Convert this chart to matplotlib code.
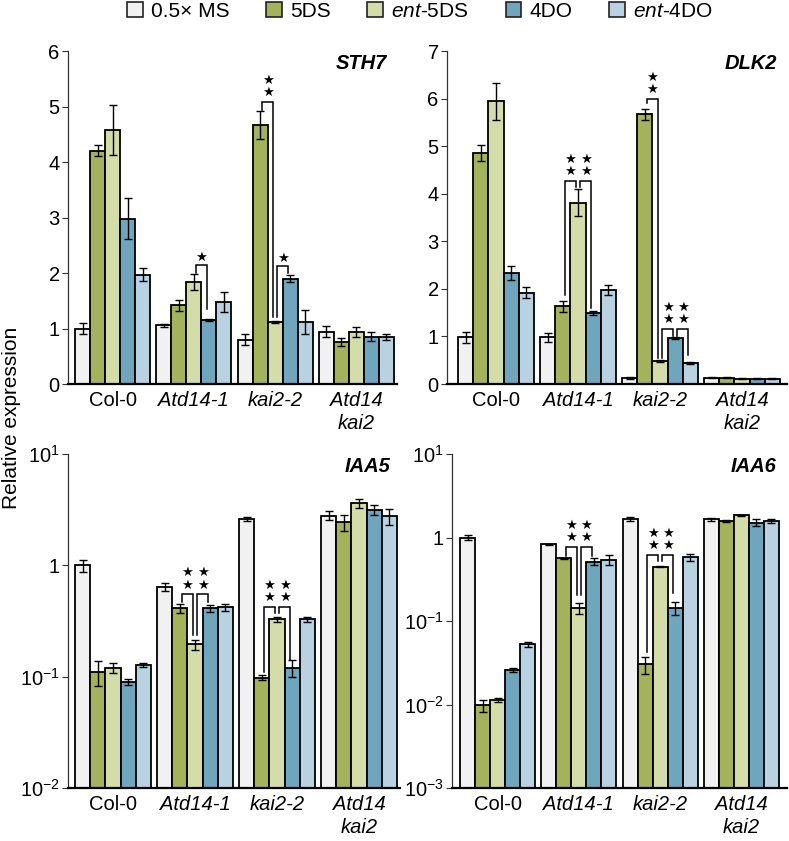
import numpy as np
import matplotlib.pyplot as plt
from matplotlib.patches import Patch

plt.rcParams['font.family'] = ['Liberation Sans', 'DejaVu Sans']
plt.rcParams['mathtext.fontset'] = 'custom'
plt.rcParams['mathtext.rm'] = 'Liberation Sans'
plt.rcParams['mathtext.it'] = 'Liberation Sans:italic'
plt.rcParams['mathtext.bf'] = 'Liberation Sans:bold'

treatments = ['0.5× MS', '5DS', r'$\mathit{ent}$-5DS', '4DO', r'$\mathit{ent}$-4DO']
colors = ['#f1f1f1', '#a4b25c', '#d4dca9', '#70a5be', '#b8d2e2']
genotypes = ['Col-0', 'Atd14-1', 'kai2-2', 'Atd14\nkai2']
italic_geno = [False, True, True, True]

# rows = genotypes, columns = treatments
sth7_mean = [[1.00, 4.20, 4.58, 2.98, 1.97],
             [1.06, 1.42, 1.84, 1.15, 1.47],
             [0.80, 4.67, 1.12, 1.90, 1.12],
             [0.94, 0.75, 0.94, 0.85, 0.85]]
sth7_err = [[0.10, 0.10, 0.45, 0.37, 0.12],
            [0.03, 0.10, 0.15, 0.02, 0.18],
            [0.10, 0.25, 0.02, 0.07, 0.22],
            [0.10, 0.07, 0.09, 0.08, 0.05]]

dlk2_mean = [[0.98, 4.85, 5.94, 2.33, 1.92],
             [0.98, 1.63, 3.81, 1.50, 1.98],
             [0.12, 5.67, 0.48, 0.96, 0.45],
             [0.13, 0.13, 0.11, 0.11, 0.11]]
dlk2_err = [[0.12, 0.17, 0.38, 0.14, 0.12],
            [0.09, 0.12, 0.28, 0.04, 0.10],
            [0.02, 0.12, 0.02, 0.02, 0.02],
            [0.01, 0.01, 0.01, 0.01, 0.01]]

iaa5_mean = [[1.00, 0.111, 0.120, 0.090, 0.127],
             [0.644, 0.411, 0.195, 0.411, 0.420],
             [2.60, 0.098, 0.327, 0.120, 0.327],
             [2.80, 2.43, 3.62, 3.16, 2.75]]
iaa5_err = [[0.12, 0.028, 0.013, 0.005, 0.005],
            [0.05, 0.040, 0.020, 0.030, 0.030],
            [0.10, 0.005, 0.017, 0.020, 0.017],
            [0.25, 0.40, 0.35, 0.35, 0.45]]

iaa6_mean = [[1.00, 0.0098, 0.0113, 0.0258, 0.0525],
             [0.83, 0.565, 0.142, 0.515, 0.540],
             [1.66, 0.0305, 0.449, 0.142, 0.580],
             [1.66, 1.58, 1.84, 1.51, 1.58]]
iaa6_err = [[0.07, 0.0016, 0.0006, 0.0012, 0.004],
            [0.01, 0.010, 0.022, 0.050, 0.070],
            [0.10, 0.007, 0.010, 0.025, 0.050],
            [0.07, 0.03, 0.01, 0.15, 0.08]]

# significance brackets: (genotype, bar a, bar b, top, left leg end, right leg end, stars)
sth7_sig = [(1, 2, 3, 2.15, 2.00, 1.36, 1),
            (2, 1, 2, 5.09, 4.94, 1.20, 2),
            (2, 2, 3, 2.12, 1.20, 2.00, 1)]
dlk2_sig = [(1, 1, 2, 4.27, 1.87, 4.15, 2),
            (1, 2, 3, 4.27, 4.15, 1.59, 2),
            (2, 1, 2, 6.00, 5.90, 0.54, 2),
            (2, 2, 3, 1.16, 0.54, 1.00, 2),
            (2, 3, 4, 1.16, 1.00, 0.61, 2)]
iaa5_sig = [(1, 1, 2, 0.553, 0.47, 0.237, 2),
            (1, 2, 3, 0.553, 0.237, 0.47, 2),
            (2, 1, 2, 0.426, 0.111, 0.375, 2),
            (2, 2, 3, 0.426, 0.375, 0.141, 2)]
iaa6_sig = [(1, 1, 2, 0.78, 0.60, 0.205, 2),
            (1, 2, 3, 0.78, 0.205, 0.60, 2),
            (2, 1, 2, 0.62, 0.043, 0.52, 2),
            (2, 2, 3, 0.62, 0.52, 0.219, 2)]

W, H = 789, 841
fig = plt.figure(figsize=(W / 100, H / 100), dpi=100)

GAP = 5.4  # group spacing in bar widths
FS = 14.5


def panel(box, bars_px, title, mean, err, sig, log=False, ylim=None, yticks=None, ylabels=None):
    x0, x1, y0, y1 = box
    ax = fig.add_axes([x0 / W, 1 - y1 / H, (x1 - x0) / W, (y1 - y0) / H])
    mean = np.array(mean)
    err = np.array(err)
    n_g, n_t = mean.shape
    centers = np.arange(n_g) * GAP
    first, last = -2.5, centers[-1] + 2.5
    ppu = (bars_px[1] - bars_px[0]) / (last - first)
    ax.set_xlim(first - (bars_px[0] - x0) / ppu, last + (x1 - bars_px[1]) / ppu)
    if log:
        ax.set_yscale('log')
    ax.set_ylim(*ylim)
    base = ylim[0]
    for t in range(n_t):
        xs = centers + (t - 2)
        ax.bar(xs, mean[:, t] - base, bottom=base, width=1.0, color=colors[t],
               edgecolor='black', linewidth=1.3, zorder=2)
        ax.errorbar(xs, mean[:, t], yerr=err[:, t], fmt='none', ecolor='black',
                    elinewidth=1.0, capsize=3.2, capthick=1.0, zorder=3)
    for g, a, b, top, la, lb, ns in sig:
        xa = centers[g] + (a - 2) + 0.15
        xb = centers[g] + (b - 2) - 0.15
        ax.plot([xa, xa, xb, xb], [la, top, top, lb], color='black', lw=1.1,
                solid_joinstyle='miter', zorder=4)
        xm = (xa + xb) / 2
        offs = [5.5] if ns == 1 else [6.5, 15.5]
        for o in offs:
            ax.annotate('★', (xm, top), xytext=(0, o), textcoords='offset points',
                        ha='center', va='center', fontsize=9.5, family='DejaVu Sans',
                        zorder=5)
    ax.set_yticks(yticks)
    ax.set_yticklabels(ylabels)
    ax.minorticks_off()
    ax.set_xticks(centers)
    ax.set_xticklabels(genotypes, linespacing=1.3)
    for lab, it in zip(ax.get_xticklabels(), italic_geno):
        if it:
            lab.set_style('italic')
    ax.tick_params(axis='x', length=0, pad=5, labelsize=FS)
    ax.tick_params(axis='y', direction='out', length=4, width=0.8, pad=2,
                   labelsize=FS, color='#333333')
    for s in ['top', 'right']:
        ax.spines[s].set_visible(False)
    ax.spines['left'].set_linewidth(0.9)
    ax.spines['left'].set_color('#333333')
    ax.spines['bottom'].set_linewidth(1.6)
    ax.spines['bottom'].set_zorder(5)
    ax.text(0.97, 0.962, title, transform=ax.transAxes, ha='right', va='center',
            fontsize=14.5, fontweight='bold', style='italic')
    return ax


panel((68, 397, 51, 384), (75, 394), 'STH7', sth7_mean, sth7_err, sth7_sig,
      ylim=(0, 6), yticks=range(7), ylabels=[str(i) for i in range(7)])
panel((447, 787, 51, 384), (458, 780), 'DLK2', dlk2_mean, dlk2_err, dlk2_sig,
      ylim=(0, 7), yticks=range(8), ylabels=[str(i) for i in range(8)])
panel((68, 400, 454, 788), (75, 397), 'IAA5', iaa5_mean, iaa5_err, iaa5_sig,
      log=True, ylim=(1e-2, 10), yticks=[1e-2, 1e-1, 1, 10],
      ylabels=['$10^{-2}$', '$10^{-1}$', '1', '$10^{1}$'])
panel((452, 787, 454, 788), (460, 779), 'IAA6', iaa6_mean, iaa6_err, iaa6_sig,
      log=True, ylim=(1e-3, 10), yticks=[1e-3, 1e-2, 1e-1, 1, 10],
      ylabels=['$10^{-3}$', '$10^{-2}$', '$10^{-1}$', '1', '$10^{1}$'])

fig.text(12 / W, 1 - 418 / H, 'Relative expression', rotation=90,
         ha='center', va='center', fontsize=15)

handles = [Patch(facecolor=c, edgecolor='#222222', linewidth=1.2) for c in colors]
fig.legend(handles, treatments, loc='upper center', bbox_to_anchor=(420 / W, 1.0),
           ncol=5, frameon=False, fontsize=15,
           handlelength=0.75, handleheight=0.75,
           handletextpad=0.4, columnspacing=1.75, borderaxespad=0.0, borderpad=0.1)

fig.savefig('out.png', dpi=100)
